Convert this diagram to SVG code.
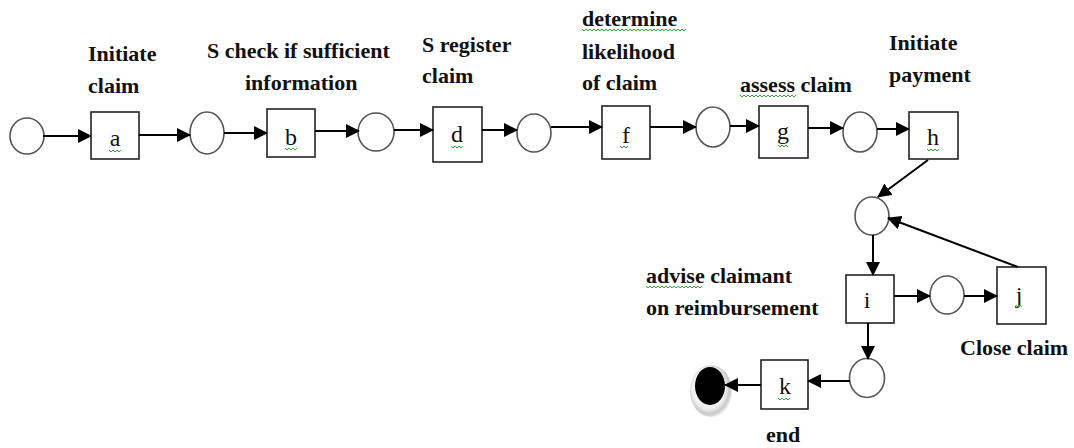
<svg xmlns="http://www.w3.org/2000/svg" width="1074" height="448" viewBox="0 0 1074 448">
<defs>
<marker id="ah" markerWidth="14" markerHeight="14" refX="13" refY="7" orient="auto" markerUnits="userSpaceOnUse">
<path d="M0,0 L14,7 L0,14 Z" fill="#000"/>
</marker>
<radialGradient id="sh" cx="0.45" cy="0.45" r="0.55">
<stop offset="0.7" stop-color="#f2f2f2"/>
<stop offset="0.9" stop-color="#c8c8c8"/>
<stop offset="1" stop-color="#e8e8e8"/>
</radialGradient>
</defs>
<style>
.pl{fill:#fff;stroke:#555;stroke-width:1.6}
.tr{fill:#fff;stroke:#222;stroke-width:1.6}
.lt{font-family:'Liberation Serif','Times New Roman',serif;font-size:24px;fill:#111;text-anchor:middle}
.lb{font-family:'Liberation Serif','Times New Roman',serif;font-size:22px;font-weight:bold;fill:#111}
.cn line{stroke:#000;stroke-width:2;marker-end:url(#ah)}
.sq{fill:none;stroke:#3a3;stroke-width:1}
</style>
<rect width="1074" height="448" fill="#fff"/>

<g id="p1"><ellipse class="pl" cx="27" cy="136" rx="17" ry="18"/></g>
<g id="a"><rect class="tr" x="91" y="112" width="48" height="47"/><text class="lt" x="115" y="146">a</text><path class="sq" d="M109,150 l2,2 l2,-2 l2,2 l2,-2 l2,2 l2,-2"/></g>
<g id="p2"><ellipse class="pl" cx="207" cy="133" rx="17" ry="21"/></g>
<g id="b"><rect class="tr" x="267" y="109" width="48" height="48"/><text class="lt" x="291" y="145">b</text><path class="sq" d="M285,148 l2,2 l2,-2 l2,2 l2,-2 l2,2 l2,-2"/></g>
<g id="p3"><ellipse class="pl" cx="376" cy="132" rx="18" ry="19"/></g>
<g id="d"><rect class="tr" x="433" y="107" width="49" height="55"/><text class="lt" x="457" y="142">d</text><path class="sq" d="M451,146 l2,2 l2,-2 l2,2 l2,-2 l2,2 l2,-2"/></g>
<g id="p4"><ellipse class="pl" cx="534" cy="133" rx="17" ry="19"/></g>
<g id="f"><rect class="tr" x="602" y="106" width="48" height="53"/><text class="lt" x="626" y="143">f</text><path class="sq" d="M620,146 l2,2 l2,-2 l2,2 l2,-2"/></g>
<g id="p5"><ellipse class="pl" cx="713" cy="127" rx="17" ry="20"/></g>
<g id="g"><rect class="tr" x="759" y="106" width="49" height="52"/><text class="lt" x="783" y="139">g</text><path class="sq" d="M778,145 l2,2 l2,-2 l2,2 l2,-2 l2,2"/></g>
<g id="p6"><ellipse class="pl" cx="860" cy="132" rx="17" ry="20"/></g>
<g id="h"><rect class="tr" x="909" y="112" width="49" height="47"/><text class="lt" x="933" y="145">h</text><path class="sq" d="M927,149 l2,2 l2,-2 l2,2 l2,-2 l2,2 l2,-2"/></g>
<g id="p7"><ellipse class="pl" cx="872" cy="216" rx="17" ry="19"/></g>
<g id="i"><rect class="tr" x="846" y="275" width="48" height="48"/><text class="lt" x="867" y="308">i</text></g>
<g id="p8"><ellipse class="pl" cx="947" cy="295" rx="17" ry="19"/></g>
<g id="j"><rect class="tr" x="997" y="267" width="49" height="57"/><text class="lt" x="1019" y="303">j</text><path class="sq" d="M1016,305 l2,2 l2,-2 l2,2"/></g>
<g id="p9"><ellipse class="pl" cx="867" cy="378" rx="17.5" ry="19.5"/></g>
<g id="k"><rect class="tr" x="761" y="360" width="47" height="49"/><text class="lt" x="785" y="394">k</text><path class="sq" d="M778,398 l2,2 l2,-2 l2,2 l2,-2 l2,2 l2,-2"/></g>
<g id="end"><ellipse cx="711" cy="391" rx="21" ry="26" fill="url(#sh)"/><ellipse cx="710" cy="386" rx="15" ry="19" fill="#000"/></g>

<g id="connectors" class="cn">
<line x1="43" y1="136" x2="91" y2="136"/>
<line x1="139" y1="135" x2="190" y2="135"/>
<line x1="224" y1="133" x2="267" y2="133"/>
<line x1="315" y1="131" x2="359" y2="131"/>
<line x1="394" y1="130" x2="433" y2="130"/>
<line x1="482" y1="130" x2="517" y2="130"/>
<line x1="551" y1="127" x2="602" y2="127"/>
<line x1="650" y1="127" x2="696" y2="127"/>
<line x1="730" y1="126" x2="759" y2="126"/>
<line x1="808" y1="128" x2="843" y2="128"/>
<line x1="877" y1="129" x2="909" y2="129"/>
<line x1="928" y1="160" x2="878" y2="197"/>
<line x1="873" y1="235" x2="873" y2="275"/>
<line x1="894" y1="296" x2="930" y2="296"/>
<line x1="964" y1="296" x2="997" y2="296"/>
<line x1="1018" y1="267" x2="888" y2="218"/>
<line x1="868" y1="323" x2="868" y2="359"/>
<line x1="850" y1="381" x2="808" y2="381"/>
<line x1="761" y1="385" x2="725" y2="385"/>
</g>

<g id="labels">
<text class="lb" x="88" y="61">Initiate</text>
<text class="lb" x="88" y="93">claim</text>
<text class="lb" x="207" y="58">S check if sufficient</text>
<text class="lb" x="245" y="90">information</text>
<text class="lb" x="422" y="52">S register</text>
<text class="lb" x="422" y="83">claim</text>
<text class="lb" x="582" y="26">determine</text>
<text class="lb" x="582" y="59">likelihood</text>
<text class="lb" x="582" y="90">of claim</text>
<text class="lb" x="740" y="92">assess claim</text>
<text class="lb" x="889" y="50">Initiate</text>
<text class="lb" x="889" y="82">payment</text>
<text class="lb" x="646" y="283">advise claimant</text>
<text class="lb" x="646" y="315">on reimbursement</text>
<text class="lb" x="960" y="355">Close claim</text>
<text class="lb" x="766" y="442">end</text>
<path class="sq" d="M582,29 l2,2 l2,-2 l2,2 l2,-2 l2,2 l2,-2 l2,2 l2,-2 l2,2 l2,-2 l2,2 l2,-2 l2,2 l2,-2 l2,2 l2,-2 l2,2 l2,-2 l2,2 l2,-2 l2,2 l2,-2 l2,2 l2,-2 l2,2 l2,-2 l2,2 l2,-2 l2,2 l2,-2 l2,2 l2,-2 l2,2 l2,-2 l2,2 l2,-2 l2,2 l2,-2 l2,2 l2,-2 l2,2 l2,-2 l2,2 l2,-2 l2,2 l2,-2 l2,2 l2,-2 l2,2 l2,-2 l2,2 l2,-2"/>
<path class="sq" d="M740,95 l2,2 l2,-2 l2,2 l2,-2 l2,2 l2,-2 l2,2 l2,-2 l2,2 l2,-2 l2,2 l2,-2 l2,2 l2,-2 l2,2 l2,-2 l2,2 l2,-2 l2,2 l2,-2 l2,2 l2,-2 l2,2 l2,-2 l2,2 l2,-2 l2,2 l2,-2"/>
<path class="sq" d="M646,286 l2,2 l2,-2 l2,2 l2,-2 l2,2 l2,-2 l2,2 l2,-2 l2,2 l2,-2 l2,2 l2,-2 l2,2 l2,-2 l2,2 l2,-2 l2,2 l2,-2 l2,2 l2,-2 l2,2 l2,-2 l2,2 l2,-2 l2,2 l2,-2 l2,2 l2,-2"/>
</g>
</svg>
